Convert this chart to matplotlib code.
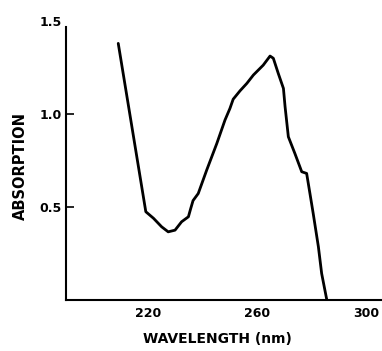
import matplotlib.pyplot as plt

# spectrum
wavelength = [209.1, 219.2, 222.0, 225.0, 227.4, 229.9, 232.3, 234.8, 235.6, 236.5,
              238.4, 241.5, 245.2, 248.2, 250.0, 251.2, 253.7, 256.2, 258.6, 262.2,
              264.7, 265.9, 267.7, 269.6, 270.2, 271.4, 273.8, 276.3, 278.1, 279.3,
              280.5, 282.4, 283.6, 285.5]
absorption = [1.38, 0.475, 0.44, 0.394, 0.367, 0.376, 0.421, 0.448, 0.49, 0.535,
              0.573, 0.699, 0.842, 0.968, 1.03, 1.08, 1.125, 1.165, 1.21, 1.263,
              1.312, 1.30, 1.219, 1.138, 1.04, 0.878, 0.788, 0.69, 0.681, 0.574,
              0.466, 0.287, 0.143, 0.0]
xticks = [220, 260, 300]
yticks = [0.5, 1.0, 1.5]
ytick_labels = ['0.5', '1.0', '1.5']

fig = plt.figure(figsize=(3.82, 3.51), dpi=100)
ax = fig.add_axes([0.173, 0.145, 0.827, 0.795])

ax.plot(wavelength, absorption, color='black', linewidth=2.0,
        solid_joinstyle='round', solid_capstyle='round')

ax.set_xlim(190, 305.7)
ax.set_ylim(0, 1.5)
ax.spines['top'].set_visible(False)
ax.spines['right'].set_visible(False)
ax.spines['left'].set_bounds(0, 1.47)
ax.spines['left'].set_linewidth(1.5)
ax.spines['bottom'].set_linewidth(1.5)

ax.set_xticks(xticks)
ax.set_xticklabels([str(t) for t in xticks], fontsize=9, fontweight='bold',
                   family='Liberation Sans Narrow')
ax.set_yticks(yticks)
ax.set_yticklabels(ytick_labels, fontsize=9, fontweight='bold',
                   family='Liberation Sans Narrow')
ax.tick_params(axis='x', length=0, pad=5)
ax.tick_params(axis='y', direction='in', length=6, width=1.2, pad=3)
ax.yaxis.get_major_ticks()[-1].tick1line.set_visible(False)

ax.set_xlabel('WAVELENGTH (nm)', fontsize=10, fontweight='bold')
ax.xaxis.set_label_coords(0.48, -0.115)
ax.set_ylabel('ABSORPTION', fontsize=10.5, fontweight='bold')
ax.yaxis.set_label_coords(-0.12, 0.48)

fig.savefig('out.png', dpi=100)
